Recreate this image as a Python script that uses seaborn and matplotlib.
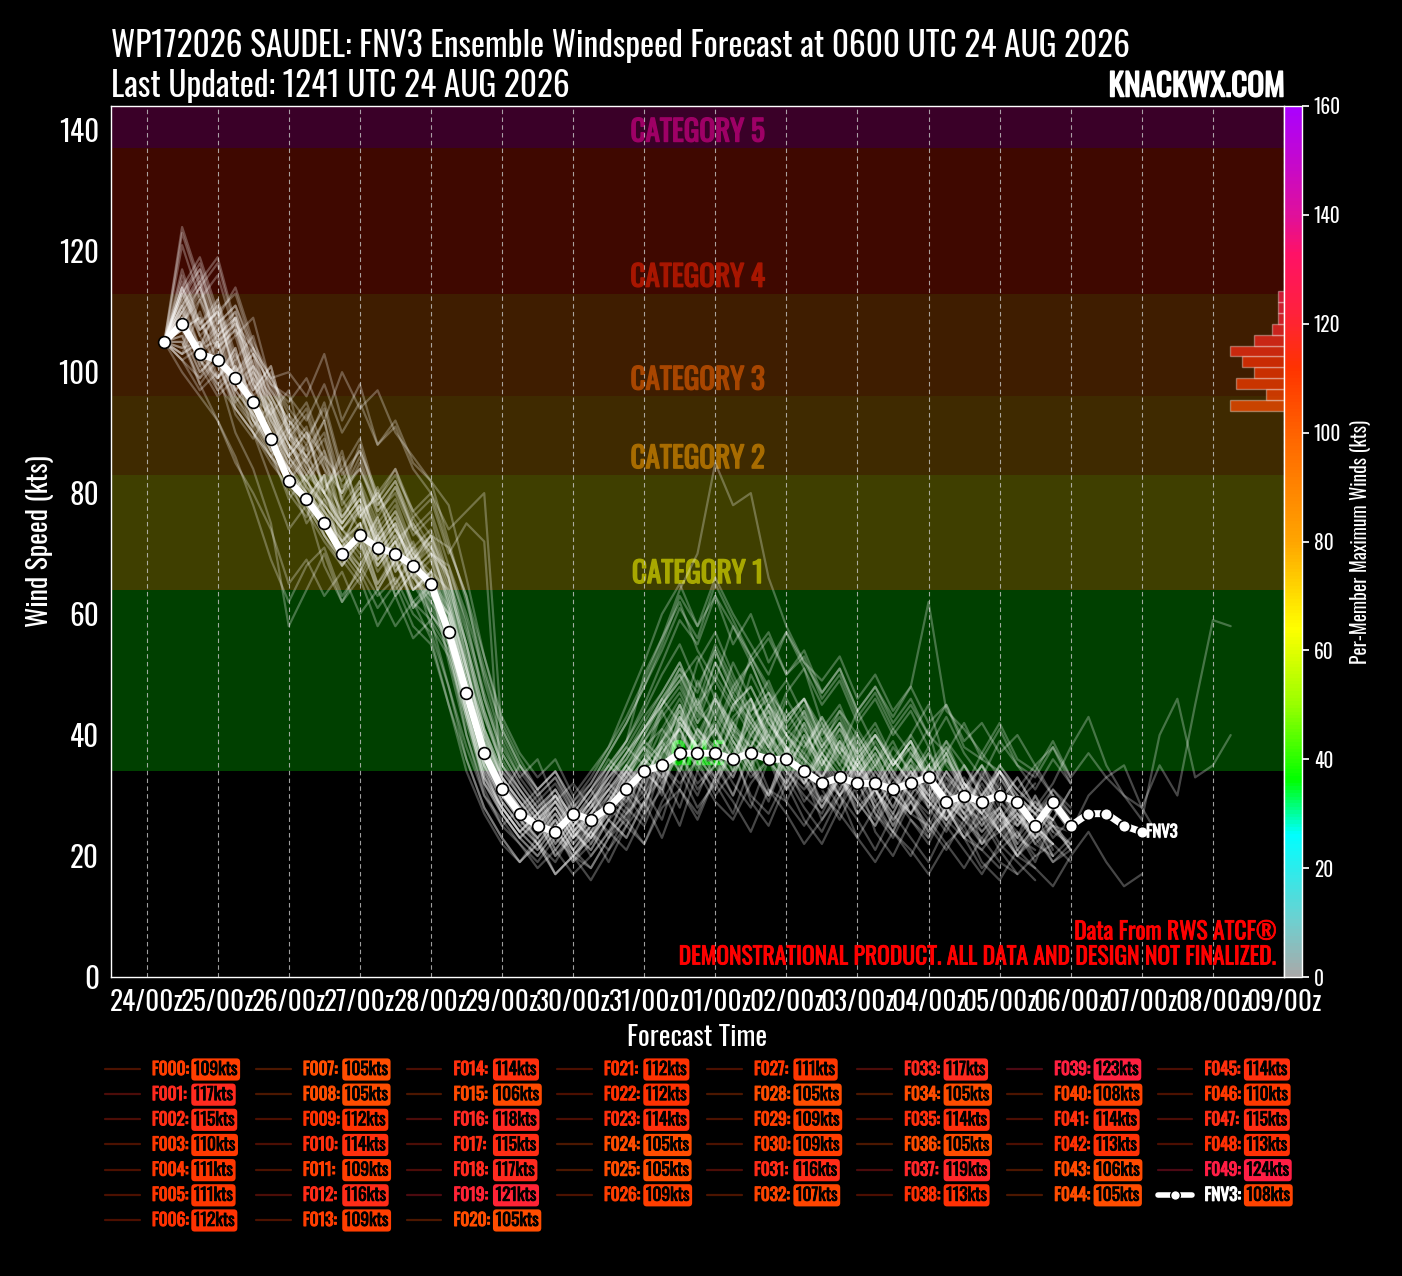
import numpy as np
import pandas as pd
import matplotlib
matplotlib.use("Agg")
import matplotlib.pyplot as plt
import matplotlib.dates as mdates
import matplotlib.transforms as mtransforms
import matplotlib.patheffects as pe
from matplotlib.colors import LinearSegmentedColormap, Normalize
from matplotlib.cm import ScalarMappable
from matplotlib.lines import Line2D
from matplotlib import font_manager as fm
import seaborn as sns

# ---------------- data ----------------
INIT_TIME = "2026-08-24 06:00"
STEP = "6h"
title_main = "WP172026 SAUDEL: FNV3 Ensemble Windspeed Forecast at 0600 UTC 24 AUG 2026"
title_sub = "Last Updated: 1241 UTC 24 AUG 2026"
brand = "KNACKWX.COM"

fnv3_kts = [105, 108, 103, 102, 99, 95, 89, 82, 79, 75, 70, 73, 71, 70, 68, 65,
            57, 47, 37, 31, 27, 25, 24, 27, 26, 28, 31, 34, 35, 37, 37, 37,
            36, 37, 36, 36, 34, 32, 33, 32, 32, 31, 32, 33, 29, 30, 29, 30,
            29, 25, 29, 25, 27, 27, 25, 24]
fnv3_max_kts = 108

member_names = [f"F{i:03d}" for i in range(50)]
member_max_kts = [109, 117, 115, 110, 111, 111, 112, 105, 105, 112,
                  114, 109, 116, 109, 114, 106, 118, 115, 117, 121,
                  105, 112, 112, 114, 105, 105, 109, 111, 105, 109,
                  109, 116, 107, 117, 105, 114, 105, 119, 113, 123,
                  108, 114, 113, 106, 105, 114, 110, 115, 113, 124]

member_kts = [
    [105,109,101,96,99,92,88,93,84,80,86,77,79,72,75,69,58,45,33,28,24,27,21,25,29,23,31,36,30,42,38,33,40,35,29,37,42,33,28,36,31,25,33,38,29,26,34,28,23,30,25,21],
    [105,117,108,112,103,97,101,90,86,92,81,84,77,80,73,76,66,52,38,31,26,22,25,19,24,28,33,27,39,45,37,41,34,46,39,31,36,28,33,40,27,24,31,35,26,30,22,27,24,19,26,21],
    [105,111,115,104,107,98,93,97,85,89,79,74,81,70,76,71,62,48,35,27,23,26,20,23,27,24,30,26,35,31,40,36,30,38,44,35,29,33,39,30,26,34,29,23,31,27,24,28,21,25,20],
    [105,103,110,101,95,99,88,82,86,76,71,78,68,72,64,67,55,40,31,25,28,22,19,24,21,26,23,29,34,28,37,32,27,35,30,38,33,26,31,36,29,24,30,26,33,27,22,26,20,24,19,22],
    [105,107,104,111,100,103,95,86,90,81,84,76,80,74,69,73,64,55,41,33,29,25,30,27,22,28,35,31,38,44,36,47,41,35,43,38,32,37,42,34,30,35,39,31,27,32,28,34,29,25,30,26],
    [105,111,102,98,94,90,82,74,78,68,62,66,58,63,56,59,48,36,28,23,19,22,17,20,24,19,25,29,23,31,27,33,38,29,25,32,26,22,28,33,24,20,26,22,28,23,18,21,17,20],
    [105,104,112,106,109,100,96,90,94,85,80,88,78,82,75,70,67,59,46,37,32,28,31,26,30,35,32,39,44,38,49,43,52,46,40,47,51,42,37,44,38,33,40,45,35,31,37,33,29,34,30,27],
    [105,100,96,92,85,80,74,65,69,63,67,60,64,58,62,56,45,36,28,23,19,22,17,20,16,21,25,22,28,31,26,33,29,24,31,27,22,26,30,23,19,24,21,17,22,25,19,16,21,18,15,20,24,19,15,17],
    [105,102,99,105,96,91,95,84,79,83,74,70,76,67,71,65,57,44,32,27,23,20,24,21,18,23,28,25,32,37,31,35,42,36,30,38,33,28,34,29,25,32,36,28,24,30,27,22,26],
    [105,110,104,112,101,96,100,89,93,84,76,80,73,77,70,66,60,47,35,30,26,29,23,27,31,26,34,38,32,41,36,45,39,34,42,37,44,36,31,38,33,28,35,30,37,29,25,31,27,23,28,24],
    [105,114,106,101,109,98,92,87,91,80,75,82,70,74,68,72,61,50,39,33,29,25,28,24,27,32,29,36,45,51,47,55,49,43,38,46,41,35,40,33,37,31,36,41,30,27,33,29,25,30,24,22],
    [105,107,109,99,103,94,89,84,88,77,72,75,69,73,66,62,56,43,32,28,24,27,22,26,23,28,25,33,38,34,41,37,33,40,45,38,32,36,30,34,28,32,27,31,25,29,24,27,21,25,22],
    [105,116,108,111,102,106,96,91,86,90,79,85,76,81,74,70,68,60,50,41,35,30,33,28,31,36,33,40,46,42,52,57,50,44,49,42,46,39,43,36,40,35,38,33,37,31,35,29,33,28,32,38,43,35,30,26,40,46,33,35,40],
    [105,109,102,97,100,90,86,80,76,83,68,72,64,69,61,65,52,40,30,25,22,19,23,20,24,21,27,31,26,35,30,37,32,28,36,40,33,29,34,27,31,25,29,33,26,23,28,24,20,25],
    [105,108,114,106,110,101,97,92,88,95,84,89,79,83,77,73,71,63,49,39,33,36,29,32,28,34,39,44,50,55,48,54,47,52,45,49,43,38,44,40,35,41,37,33,39,35,30,34,29,32],
    [105,106,98,92,86,78,69,62,68,71,63,67,61,65,58,55,45,34,27,22,19,23,17,20,18,23,26,22,29,34,28,32,37,30,27,33,28,24,30,26,21,27,23,19,25,21,17,22,19,16],
    [105,113,118,109,114,105,99,100,96,103,92,98,88,92,85,82,78,66,53,42,36,31,34,29,33,38,45,52,60,65,58,63,55,60,52,57,51,45,49,42,46,40,44,38,43,37,33,39,35,31,36,32],
    [105,115,107,110,99,102,93,87,82,86,75,79,72,76,69,66,61,51,40,33,29,25,28,23,27,31,28,35,41,37,45,40,47,42,38,43,46,39,35,41,36,31,37,33,29,35,31,26,30,27,24],
    [105,112,117,108,111,103,98,91,95,87,80,84,78,82,74,71,66,55,44,35,30,27,31,26,29,33,37,42,47,52,45,49,44,53,48,42,46,40,44,37,41,35,39,34,38,32,29,34,30,27,31,28],
    [105,121,112,116,106,109,98,96,92,98,90,95,88,91,84,80,74,77,80,40,34,30,33,27,31,35,39,45,52,59,55,63,58,52,56,50,53,46,50,43,47,41,45,40,37,42,36,34,31,35,30],
    [105,102,97,100,90,84,75,58,64,70,62,68,63,66,60,57,48,38,30,26,22,18,21,17,20,24,21,27,31,25,34,29,26,32,36,29,25,30,27,23,28,24,20,26,22,18,23,19,17],
    [105,108,112,103,106,96,93,86,90,80,74,78,72,75,67,70,63,51,40,33,28,31,25,29,24,30,35,32,39,43,37,41,36,45,40,35,42,37,33,39,34,30,36,32,28,33,29,31,25,28,23,26],
    [105,112,104,108,98,101,90,84,79,83,72,68,74,65,70,63,58,46,36,30,26,23,27,22,26,29,34,30,37,41,46,39,35,43,38,33,40,34,30,36,31,27,33,29,25,31,26,28,22,26,20,23],
    [105,110,114,105,108,97,101,90,85,80,87,76,80,74,69,73,66,55,44,36,31,27,30,26,29,34,38,35,44,48,42,50,45,40,37,44,39,35,41,37,32,38,34,30,36,32,27,33,28,25,22],
    [105,105,98,102,93,89,94,82,78,73,69,74,65,70,61,64,53,43,33,27,23,26,20,24,21,26,29,34,31,38,35,31,39,34,30,36,32,28,33,27,31,26,29,24,28,23,21,18],
    [105,104,105,97,101,92,86,90,80,76,71,67,73,68,64,66,59,48,37,31,27,24,28,23,26,30,27,35,39,44,37,35,42,46,38,34,40,36,32,37,33,28,34,30,26,31,27,24,28,22,25,21],
    [105,109,101,105,95,91,86,83,75,79,70,66,72,63,67,60,55,44,34,28,24,21,25,20,23,27,31,28,37,41,34,43,38,33,36,31,35,29,33,28,31,26,30,24,28,23,26,21,24,20,22,19],
    [105,111,104,107,97,101,92,86,81,78,74,78,69,73,66,69,60,50,39,32,28,25,29,24,27,31,35,40,45,49,53,46,42,38,45,40,36,33,39,35,31,36,32,28,34,30,27,32,26,29,25,24,30,33,35,28,23],
    [105,103,105,98,101,92,89,84,79,75,71,68,73,64,68,60,56,46,36,30,27,23,26,21,25,29,26,33,38,41,35,39,34,41,36,32,38,42,35,31,36,30,34,29,26,32,28,24,29,25,22],
    [105,107,109,102,97,100,91,85,82,77,73,69,75,67,71,62,58,47,37,31,27,30,24,28,23,29,33,38,35,43,39,46,40,36,41,35,39,33,37,32,35,30,34,28,32,27,30,25,28,23,26],
    [105,109,103,99,104,93,87,91,81,76,72,77,68,72,65,60,56,44,35,29,25,22,26,21,24,28,32,36,33,42,38,35,43,46,39,35,32,37,33,29,34,30,27,32,28,25,30,26,23,27,21],
    [105,111,116,107,110,101,96,90,87,92,78,82,75,79,71,74,66,57,46,37,32,28,31,26,30,34,38,43,47,52,45,54,48,43,46,40,44,38,42,36,40,35,39,33,37,31,35,29,33,28,26],
    [105,107,100,103,96,92,87,84,80,76,71,75,67,71,64,67,57,47,37,31,27,24,28,23,27,30,34,31,40,45,38,42,35,39,36,32,37,33,30,35,31,27,33,29,26,30,25,28,23,21],
    [105,113,117,108,111,104,97,92,89,84,80,86,77,81,74,77,68,58,47,38,33,29,32,27,31,35,39,50,56,62,54,49,58,53,47,43,46,41,45,38,42,36,40,35,39,32,30,35,31,28,26,31],
    [105,105,99,102,94,90,85,81,77,72,68,73,65,69,62,59,54,43,33,28,24,21,25,20,23,27,30,34,31,40,36,33,37,42,37,34,31,35,30,33,28,32,27,25,30,26,23,27,22],
    [105,114,108,104,109,99,93,88,83,80,75,79,71,75,67,70,61,52,41,34,30,26,29,25,28,32,36,41,45,50,44,41,48,52,45,41,38,43,37,40,35,39,33,37,31,35,30,34,29,27,30],
    [105,102,104,105,97,93,87,79,83,73,68,72,64,69,62,65,55,44,34,28,24,27,21,25,20,24,27,30,35,32,36,30,34,38,31,29,35,31,26,32,27,23,29,25,21,26,22,24,20,23,19,21],
    [105,114,119,110,113,104,99,93,89,94,83,87,80,84,76,79,70,75,72,30,35,31,34,28,32,37,42,48,54,61,56,65,59,53,57,50,54,47,51,44,48,42,46,40,45,38,36,41,35,33,38,32],
    [105,113,106,109,100,96,91,86,82,78,74,77,70,74,67,64,60,49,39,32,28,24,27,23,26,29,34,38,41,46,40,37,45,48,42,38,35,41,36,33,38,34,30,35,31,28,33,29,26,24,29,25],
    [105,123,114,118,107,103,98,95,99,92,100,94,97,90,86,82,72,62,51,41,35,31,34,29,32,37,42,48,55,63,58,66,60,55,50,57,52,47,51,44,48,43,48,62,44,41,37,42,36,34,39,33],
    [105,108,102,99,104,94,88,83,79,75,71,67,73,65,69,61,56,45,35,29,25,28,22,26,23,28,32,36,33,42,38,44,39,35,40,36,33,37,32,35,29,33,30,27,31,26,29,24,27,23,25,22],
    [105,109,114,105,108,99,95,88,85,80,76,81,72,76,69,72,63,51,41,34,30,26,29,25,28,33,36,41,45,49,42,46,40,50,44,40,37,43,38,35,40,36,32,37,33,30,35,31,28,25,31,27],
    [105,113,107,110,99,103,92,86,82,78,74,71,76,68,72,64,60,49,38,32,28,25,29,24,27,31,34,39,36,45,40,46,41,38,43,37,41,35,39,33,37,31,35,29,34,28,26,31,27,24,22],
    [105,106,100,103,94,90,86,82,78,73,69,65,71,63,67,58,53,42,32,27,23,20,24,19,22,26,23,29,33,37,32,35,30,37,40,34,30,27,33,29,25,30,26,23,28,24,21,25,20,18],
    [105,103,105,99,102,93,90,85,80,77,72,75,69,72,66,63,59,48,37,30,26,23,27,22,25,29,33,37,34,43,38,41,36,44,47,40,36,33,38,34,31,36,32,29,34,30,27,31,26,23,28,24],
    [105,114,107,110,100,104,94,88,83,87,76,80,73,77,70,67,64,53,43,35,31,27,30,25,29,33,37,41,46,51,44,52,46,41,45,39,43,37,41,35,39,34,38,32,36,31,28,34,30,27,25],
    [105,110,103,106,97,93,88,84,80,75,71,74,68,72,64,67,57,46,36,29,25,22,26,21,25,28,32,35,39,34,41,37,33,40,44,37,33,38,34,31,35,30,27,33,29,26,30,24,27,22,20],
    [105,110,115,106,109,100,95,89,86,82,77,81,74,78,70,73,65,54,43,35,31,27,30,25,29,32,37,41,46,50,43,52,46,42,47,41,45,38,42,37,40,35,39,33,38,32,29,35,31,28,26,31],
    [105,108,113,104,107,98,94,88,84,79,75,79,71,75,68,71,62,51,40,33,29,26,30,24,28,31,35,39,43,47,41,38,45,48,42,38,36,41,37,34,38,33,30,35,31,28,32,27,25,29,26],
    [105,124,115,119,108,104,99,94,90,86,82,87,79,84,77,80,71,63,53,43,37,33,36,30,34,38,43,49,56,64,70,85,78,80,66,58,52,49,53,46,50,44,48,42,45,39,42,37,40,35,38,33,37,33,30,28,35,30,45,59,58],
]

category_names = ["GALE", "CATEGORY 1", "CATEGORY 2", "CATEGORY 3", "CATEGORY 4", "CATEGORY 5"]
category_lower_kts = [34, 64, 83, 96, 113, 137]
category_upper_kts = [64, 83, 96, 113, 137, 200]
band_colors = ["#004000", "#3f3f00", "#3f2a00", "#3f1d00", "#3f0800", "#3a0028"]
band_label_colors = ["#00c800", "#a8a800", "#a86c00", "#a84600", "#a81600", "#9e0066"]

cmap_nodes_kts = [0, 10, 26, 36, 50, 64, 80, 99, 112, 123, 133, 140, 160]
cmap_node_colors = ["#a9a9a9", "#6fcfcf", "#00ffff", "#00ff00", "#99ff00", "#ffff00",
                    "#ffa500", "#ff6600", "#ff3300", "#ff2040", "#ff1166", "#e0109a", "#aa00ff"]
cbar_ticks = list(range(0, 161, 20))
y_ticks = list(range(0, 141, 20))
hist_bin_width = 2
hist_bin_range = (104, 126)

# ---------------- style ----------------
sns.set_theme(style="dark")
plt.rcParams.update({
    "figure.facecolor": "black", "axes.facecolor": "black", "savefig.facecolor": "black",
    "text.color": "white", "axes.labelcolor": "white", "xtick.color": "white",
    "ytick.color": "white", "axes.edgecolor": "white",
})
avail = {f.name for f in fm.fontManager.ttflist}
FAM = next((f for f in ["Oswald", "Liberation Sans Narrow", "Roboto Condensed", "DejaVu Sans"] if f in avail), "DejaVu Sans")
plt.rcParams["font.family"] = [FAM, "DejaVu Sans"]


def fake_bold(artist, color, lw=1.0):
    artist.set_path_effects([pe.withStroke(linewidth=lw, foreground=color)])
    return artist


cmap = LinearSegmentedColormap.from_list(
    "winds", [(v / 160.0, c) for v, c in zip(cmap_nodes_kts, cmap_node_colors)])
norm = Normalize(0, 160)

# ---------------- data frames ----------------
frames = []
for name, vals in zip(member_names, member_kts):
    t = pd.date_range(INIT_TIME, periods=len(vals), freq=STEP)
    frames.append(pd.DataFrame({"time": t, "wind": vals, "member": name}))
df_members = pd.concat(frames, ignore_index=True)
df_fnv3 = pd.DataFrame({"time": pd.date_range(INIT_TIME, periods=len(fnv3_kts), freq=STEP),
                        "wind": fnv3_kts})

# ---------------- figure ----------------
W, H = 1402, 1276
fig = plt.figure(figsize=(W / 100, H / 100), dpi=100)
ax = fig.add_axes([111 / W, 1 - 977 / H, 1173 / W, 871 / H])
ax.set_facecolor("black")

blend = mtransforms.blended_transform_factory(ax.transAxes, ax.transData)
for name, lo, hi, bc, lc in zip(category_names, category_lower_kts, category_upper_kts,
                                band_colors, band_label_colors):
    ax.axhspan(lo, hi, color=bc, lw=0, zorder=0)
    t = ax.text(0.5, lo + 2.7, name, transform=blend, ha="center", va="center",
                fontsize=21, fontweight="bold", color=lc, zorder=1)
    fake_bold(t, lc, 1.0)

sns.lineplot(data=df_members, x="time", y="wind", units="member", estimator=None,
             color="white", alpha=0.28, linewidth=1.6, ax=ax, legend=False, zorder=3)
sns.lineplot(data=df_fnv3, x="time", y="wind", color="white", linewidth=5, marker="o",
             markersize=8.5, markerfacecolor="white", markeredgecolor="black",
             markeredgewidth=1.2, ax=ax, legend=False, zorder=5)
last = df_fnv3.iloc[-1]
t = ax.annotate("FNV3", xy=(last["time"], last["wind"]), xytext=(3, 0), textcoords="offset points",
                ha="left", va="center", fontsize=12, fontweight="bold", color="white", zorder=6)
fake_bold(t, "white", 0.7)

ax.set_ylim(0, max(member_max_kts) + 20)
ax.set_xlim(pd.Timestamp("2026-08-23 12:00"), pd.Timestamp("2026-09-09 00:00"))
ax.xaxis.set_major_locator(mdates.DayLocator())
ax.xaxis.set_major_formatter(mdates.DateFormatter("%d/%Hz"))
ax.set_yticks(y_ticks)
ax.grid(False)
ax.grid(axis="x", color="#c8c8c8", linestyle=(0, (4, 3)), linewidth=0.8, alpha=0.8)
ax.set_axisbelow(False)
for gl in ax.get_xgridlines():
    gl.set_zorder(2)
ax.tick_params(axis="x", which="major", labelsize=19.5, colors="white", length=5, width=1)
ax.tick_params(axis="y", which="major", labelsize=21, colors="white", length=5, width=1)
for s in ax.spines.values():
    s.set_color("white")
    s.set_linewidth(1)
ax.set_xlabel("Forecast Time", fontsize=20, color="white", labelpad=6)
ax.set_ylabel("Wind Speed (kts)", fontsize=20, color="white", labelpad=3)

for yy, txt_ in [(0.0517, "Data From RWS ATCF®"),
                 (0.023, "DEMONSTRATIONAL PRODUCT. ALL DATA AND DESIGN NOT FINALIZED.")]:
    t = ax.text(0.994, yy, txt_, transform=ax.transAxes, ha="right", va="center",
                color="#ff0000", fontsize=17, fontweight="bold", zorder=7)
    fake_bold(t, "#ff0000", 0.6)

# histogram of per-member maximum winds (on the colorbar scale)
axh = ax.inset_axes([0, 0, 1, 1])
axh.patch.set_alpha(0)
sns.histplot(y=member_max_kts + [fnv3_max_kts], binwidth=hist_bin_width, binrange=hist_bin_range,
             ax=axh, edgecolor=(1, 1, 1, 0.35), linewidth=1)
for p in axh.patches:
    c = p.get_y() + p.get_height() / 2
    r, g, b, _ = cmap(norm(c))
    p.set_facecolor((r, g, b, 0.72))
axh.set_ylim(0, 160)
axh.set_xlim(1173 / 6.0, 0)
axh.set_xlabel("")
axh.set_ylabel("")
axh.set_xticks([])
axh.set_yticks([])
axh.axis("off")

# colorbar
cax = fig.add_axes([1284 / W, 1 - 977 / H, 18 / W, 871 / H])
cb = fig.colorbar(ScalarMappable(norm=norm, cmap=cmap), cax=cax, ticks=cbar_ticks)
cb.outline.set_edgecolor("white")
cb.outline.set_linewidth(1)
cax.tick_params(colors="white", labelsize=14, length=5)
cb.set_label("Per-Member Maximum Winds (kts)", color="white", fontsize=14, labelpad=6)

# titles
fig.text(111 / W, 1 - 46 / H, title_main, ha="left", va="center", fontsize=24, color="white")
fig.text(111 / W, 1 - 86 / H, title_sub, ha="left", va="center", fontsize=24, color="white")
t = fig.text(1285 / W, 1 - 87 / H, brand, ha="right", va="center", fontsize=22.5,
             fontweight="bold", color="white")
fake_bold(t, "white", 1.1)

# legend
handles = [Line2D([], [], color=cmap(norm(v)), alpha=0.3, lw=1.6) for v in member_max_kts]
handles.append(Line2D([], [], color="white", lw=4, marker="o", markersize=7,
                      markerfacecolor="white", markeredgecolor="black"))
labels = [f"{n}:" for n in member_names] + ["FNV3:"]
values = member_max_kts + [fnv3_max_kts]
leg = fig.legend(handles, labels, ncol=8, loc="upper left",
                 bbox_to_anchor=(105 / W, 1 - 1061 / H), frameon=False, fontsize=12.5,
                 handlelength=2.0, handletextpad=0.7, columnspacing=3.85,
                 labelspacing=0.47, borderpad=0, borderaxespad=0)
for txt, v, lab in zip(leg.get_texts(), values, labels):
    col = "white" if lab == "FNV3:" else cmap(norm(v))
    txt.set_color(col)
    txt.set_fontweight("bold")
    fake_bold(txt, col, 0.8)

fig.canvas.draw()
renderer = fig.canvas.get_renderer()
for txt, v in zip(leg.get_texts(), values):
    bb = txt.get_window_extent(renderer)
    bt = fig.text((bb.x0 + 42) / W, (bb.y0 + bb.y1) / 2 / H, f"{v}kts", ha="left", va="center",
                  fontsize=12.5, fontweight="bold", color="black",
                  bbox=dict(boxstyle="round,pad=0.15,rounding_size=0.2", fc=cmap(norm(v)), ec="none"))
    fake_bold(bt, "black", 0.6)

fig.savefig("out.png", dpi=100, facecolor="black")
